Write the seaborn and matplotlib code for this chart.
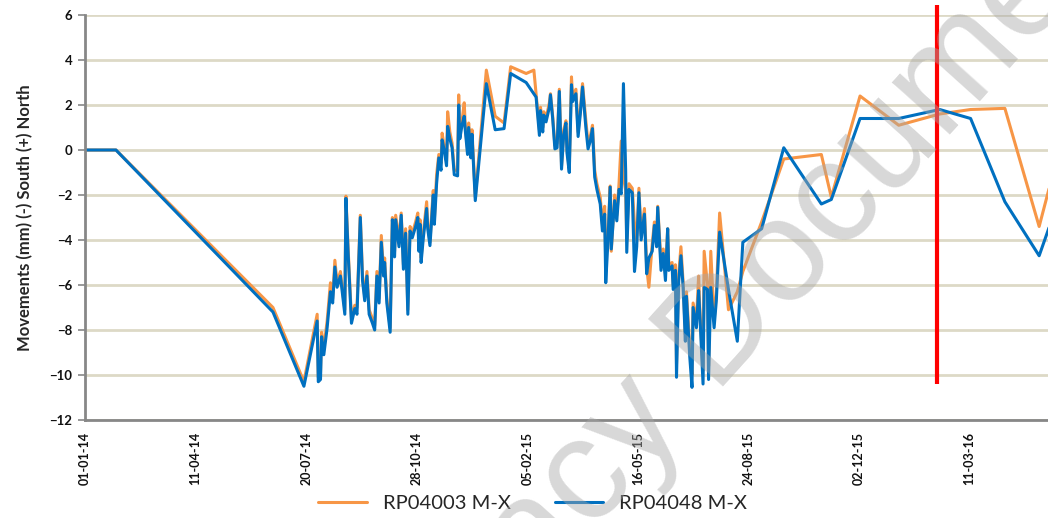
import pandas as pd
import matplotlib.pyplot as plt
import seaborn as sns

sns.set_style("white")
plt.rcParams['font.family'] = ['Lato', 'DejaVu Sans']

# days since 01-01-14
days = [0, 28, 170, 198, 210, 211, 213, 214, 216, 219, 222, 224, 226, 228, 231,
        235, 236, 238, 241, 244, 246, 249, 251, 253, 255, 257, 260, 262, 264, 266,
        268, 270, 271, 273, 276, 278, 280, 281, 284, 286, 288, 290, 292, 294, 296,
        299, 301, 302, 303, 304, 306, 309, 310, 312, 314, 315, 316, 318, 320, 322,
        323, 325, 327, 328, 330, 332, 334, 337, 338, 339, 341, 343, 344, 346, 347,
        349, 350, 353, 363, 371, 379, 385, 399, 406, 408, 411, 412, 414, 415, 417,
        420, 421, 423, 425, 427, 429, 431, 433, 435, 436, 438, 440, 441, 444, 446,
        448, 450, 453, 455, 457, 459, 461, 463, 466, 468, 470, 471, 473, 475, 476,
        479, 481, 483, 485, 487, 489, 490, 492, 495, 497, 499, 501, 503, 506, 508,
        510, 513, 515, 517, 518, 521, 523, 525, 527, 528, 531, 532, 534, 535, 537,
        539, 541, 543, 544, 547, 549, 550, 553, 555, 556, 559, 560, 563, 564, 566,
        569, 571, 574, 582, 590, 595, 612, 632, 666, 675, 701, 736, 773, 801, 832,
        863, 888]

rp04003 = [0, 0, -7.0, -10.3, -7.3, -10.1, -9.9, -8.1, -8.8, -7.6, -5.9, -6.6, -4.9, -5.9, -5.4,
           -7.1, -2.05, -4.4, -7.5, -6.9, -7.0, -2.9, -5.6, -6.5, -5.4, -7.1, -7.5, -7.8, -5.4, -6.6,
           -3.8, -5.4, -4.8, -6.6, -7.9, -3.0, -4.5, -2.9, -4.0, -2.8, -5.1, -3.5, -7.1, -3.4, -3.7,
           -3.2, -2.8, -4.3, -3.1, -4.8, -3.7, -2.3, -3.3, -4.1, -2.5, -1.8, -3.1, -1.1, -0.2, -0.6,
           0.75, 0.1, -0.5, 1.7, 0.8, 0.3, -0.9, -0.9, 2.45, 0.7, 1.3, 2.1, 1.0, 0.0, 1.2,
           -0.2, 0.9, -2.1, 3.55, 1.5, 1.2, 3.7, 3.4, 3.55, 2.5, 0.9, 1.9, 1.0, 1.7, 1.4,
           2.1, 2.5, 1.5, 0.2, 0.3, 2.7, -0.7, 0.9, 1.3, 0.0, -0.8, 3.25, 2.4, 2.7, 0.8,
           1.8, 2.95, 1.3, 0.3, 0.6, 1.1, -0.9, -1.5, -2.1, -3.3, -2.5, -5.0, -3.8, -1.6, -4.5,
           -2.0, -2.9, -1.5, 0.4, -1.2, -1.8, -4.0, -1.5, -1.7, -3.3, -4.0, -1.7, -3.8, -2.6, -5.2,
           -6.1, -4.2, -3.2, -4.0, -2.5, -5.0, -4.4, -5.5, -3.5, -5.1, -5.0, -6.0, -5.1, -9.5, -5.5,
           -4.3, -5.9, -8.2, -6.3, -8.8, -10.0, -6.8, -7.6, -5.6, -7.0, -9.8, -4.5, -6.0, -9.6, -4.5,
           -7.6, -6.4, -2.8, -7.1, -6.3, -5.4, -3.2, -0.4, -0.2, -2.1, 2.4, 1.1, 1.6, 1.8, 1.85,
           -3.4, 1.3]

rp04048 = [0, 0, -7.2, -10.5, -7.6, -10.3, -10.2, -8.3, -9.1, -7.9, -6.3, -6.8, -5.2, -6.1, -5.6,
           -7.3, -2.15, -4.6, -7.7, -7.05, -7.3, -3.0, -5.8, -6.7, -5.6, -7.3, -7.7, -8.0, -5.6, -6.8,
           -4.1, -5.6, -5.0, -6.8, -8.1, -3.1, -4.75, -3.1, -4.3, -2.9, -5.3, -3.7, -7.3, -3.6, -3.9,
           -3.4, -3.0, -4.5, -3.3, -5.0, -3.9, -2.6, -3.5, -4.25, -2.7, -2.0, -3.3, -1.5, -0.35, -0.9,
           0.45, -0.05, -0.7, 1.05, 0.5, 0.1, -1.1, -1.15, 2.0, 0.5, 1.1, 1.5, 0.85, -0.2, 1.0,
           -0.35, 0.7, -2.25, 2.95, 0.9, 0.95, 3.4, 3.0, 2.5, 2.35, 0.65, 1.75, 0.8, 1.55, 1.25,
           1.9, 2.45, 1.4, 0.05, 0.1, 2.6, -0.85, 0.7, 1.2, -0.15, -1.0, 2.9, 2.15, 2.5, 0.6,
           1.6, 2.8, 1.0, 0.05, 0.4, 0.95, -1.2, -1.75, -2.4, -3.6, -2.85, -5.9, -4.05, -1.65, -4.4,
           -2.25, -3.15, -1.75, -1.95, 2.95, -0.9, -4.55, -1.75, -1.9, -5.4, -4.3, -1.9, -4.0, -2.85, -5.5,
           -4.8, -4.5, -3.35, -4.3, -2.55, -5.35, -4.6, -5.8, -3.5, -5.35, -5.15, -6.2, -5.35, -10.1, -5.8,
           -4.7, -6.1, -8.5, -6.5, -9.2, -10.55, -7.0, -7.9, -6.25, -7.2, -10.4, -6.1, -6.2, -10.2, -6.1,
           -7.9, -6.7, -3.65, -6.2, -8.5, -4.1, -3.5, 0.1, -2.4, -2.2, 1.4, 1.4, 1.8, 1.4, -2.3,
           -4.7, -1.2]

series_names = ["RP04003 M-X", "RP04048 M-X"]
tick_labels = ["01-01-14", "11-04-14", "20-07-14", "28-10-14", "05-02-15",
               "16-05-15", "24-08-15", "02-12-15", "11-03-16"]
marker_date = "2016-02-11"

start = pd.Timestamp("2014-01-01")
dates = start + pd.to_timedelta(days, unit="D")
df = pd.concat([
    pd.DataFrame({"date": dates, "value": rp04003, "series": series_names[0]}),
    pd.DataFrame({"date": dates, "value": rp04048, "series": series_names[1]}),
])

fig = plt.figure(figsize=(10.48, 5.18), dpi=100)
ax = fig.add_axes([85/1048, 1 - 420/518, 1 - 85/1048, 405/518])

sns.lineplot(data=df, x="date", y="value", hue="series", ax=ax,
             palette=["#f79646", "#0070c0"], linewidth=2.2, sort=False)

ax.set_xlim(start, pd.Timestamp("2016-05-21"))
ax.set_ylim(-12, 6)
ax.set_yticks(range(-12, 7, 2))
ax.set_xticks(pd.to_datetime(tick_labels, format="%d-%m-%y"))
ax.set_xticklabels(tick_labels, rotation=90, fontsize=9, fontweight="bold")
for t in ax.get_yticklabels():
    t.set_fontsize(9.5)
    t.set_fontweight("bold")

ax.yaxis.grid(True, color="#ddd9c6", linewidth=2)
ax.xaxis.grid(False)
ax.set_axisbelow(True)
for side in ["top", "right"]:
    ax.spines[side].set_visible(False)
for side in ["left", "bottom"]:
    ax.spines[side].set_color("#878787")
    ax.spines[side].set_linewidth(2)
ax.tick_params(axis="y", left=True, length=5, width=1.2, color="#878787", pad=4, colors="#111111")
ax.tick_params(axis="x", bottom=False, pad=5, colors="#111111")

ax.set_xlabel("")
ax.set_ylabel("Movements (mm) (-) South (+) North", fontsize=12, fontweight="bold", labelpad=12)

# red marker line
ax.vlines(pd.Timestamp(marker_date), -10.4, 6.45, color="#ff0000", linewidth=3, clip_on=False, zorder=5)

sns.move_legend(ax, "center", bbox_to_anchor=(0.465, -0.205), ncol=2, frameon=False,
                title=None, fontsize=14.5, handlelength=2.4, columnspacing=2.2)

# watermark
fig.text(767/1048, 1 - 338/518, "Legacy Document", fontsize=105, color="#a8a8a8", alpha=0.45,
         family="Liberation Sans", rotation=48, rotation_mode="anchor",
         ha="center", va="baseline", zorder=10)

fig.savefig("out.png", dpi=100)
